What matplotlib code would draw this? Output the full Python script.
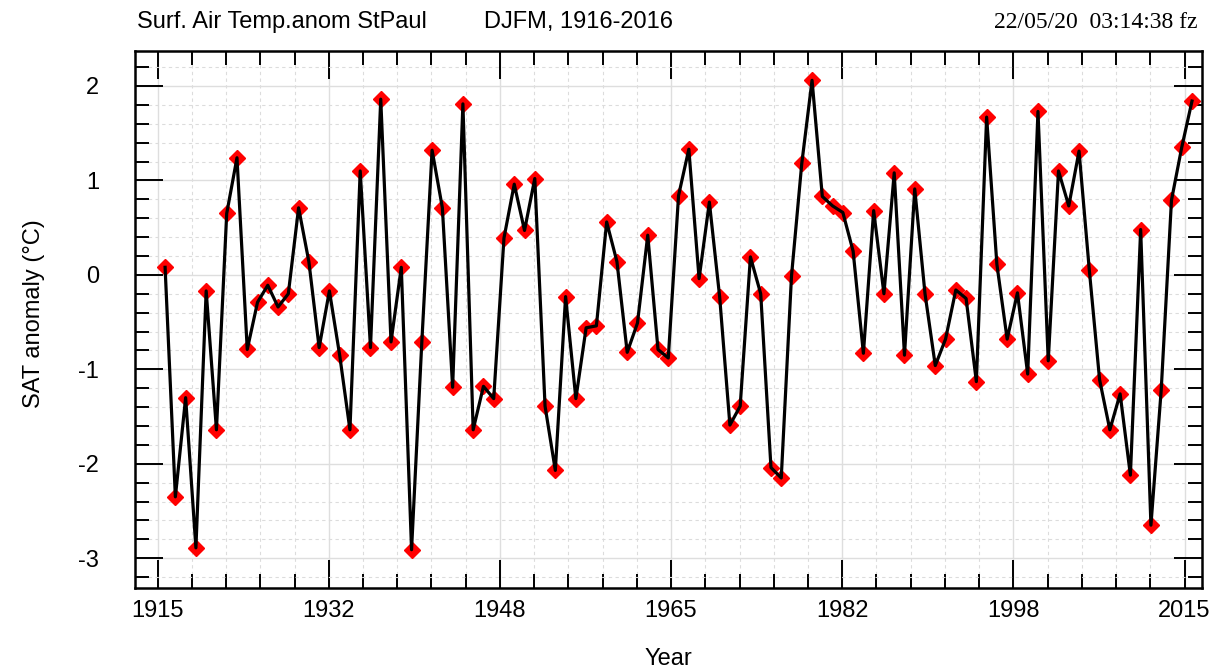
import matplotlib
matplotlib.use("Agg")
import matplotlib.pyplot as plt
import numpy as np
from matplotlib.ticker import AutoMinorLocator, MultipleLocator

plt.rcParams['font.family'] = ['Liberation Sans', 'DejaVu Sans']
plt.rcParams['axes.unicode_minus'] = False

#------------- data (DJFM SAT anomaly, St Paul) ---------------#
years = np.arange(1916, 2017)
sat = [0.08, -2.35, -1.30, -2.89, -0.17, -1.64, 0.65, 1.24, -0.79, -0.29,
       -0.11, -0.34, -0.20, 0.71, 0.14, -0.77, -0.17, -0.85, -1.64, 1.10,
       -0.77, 1.86, -0.71, 0.08, -2.91, -0.71, 1.32, 0.71, -1.19, 1.81,
       -1.64, -1.18, -1.31, 0.39, 0.96, 0.47, 1.02, -1.39, -2.07, -0.23,
       -1.31, -0.56, -0.54, 0.56, 0.14, -0.82, -0.51, 0.42, -0.79, -0.88,
       0.84, 1.33, -0.04, 0.77, -0.23, -1.59, -1.39, 0.19, -0.20, -2.04,
       -2.15, -0.01, 1.18, 2.06, 0.83, 0.73, 0.66, 0.25, -0.83, 0.68,
       -0.20, 1.08, -0.85, 0.91, -0.20, -0.96, -0.68, -0.16, -0.25, -1.13,
       1.67, 0.11, -0.68, -0.19, -1.05, 1.73, -0.91, 1.10, 0.73, 1.31,
       0.05, -1.11, -1.64, -1.26, -2.12, 0.48, -2.65, -1.22, 0.79, 1.35,
       1.84]
xtick_labels = ['1915', '1932', '1948', '1965', '1982', '1998', '2015']

#------------- figure ---------------#
fig = plt.figure(figsize=(12.24, 6.71), dpi=100)
ax = fig.add_axes([0.1103, 0.1244, 0.8717, 0.7996])

xpos = years - 0.27   # winter points sit a bit before the year mark
ax.plot(xpos, sat, linestyle='none', marker='D', markersize=8,
        color='#ff0000', markeredgecolor='#ff0000', zorder=3)
ax.plot(xpos, sat, color='black', linewidth=2.3, zorder=4)

ax.set_xlim(1912.8, 2016.7)
ax.set_ylim(-3.31, 2.37)

ax.set_xticks(1915 + np.arange(7) * 100 / 6)
ax.set_xticklabels(xtick_labels)
ax.xaxis.set_minor_locator(AutoMinorLocator(5))
ax.yaxis.set_major_locator(MultipleLocator(1))
ax.yaxis.set_minor_locator(MultipleLocator(0.2))

#grids
ax.grid(which='major', color='#dedede', linewidth=1.0, linestyle='-')
ax.grid(which='minor', color='#dcdcdc', linewidth=0.8, linestyle=(0, (3, 3)))
ax.set_axisbelow(True)

ax.tick_params(which='both', direction='in', top=True, right=True,
               labelsize=17, width=1.4, color='black')
ax.tick_params(which='major', length=20)
ax.tick_params(which='minor', length=10)
ax.tick_params(axis='y', which='major', pad=26)
ax.tick_params(axis='x', which='major', pad=9)

for sp in ax.spines.values():
    sp.set_linewidth(1.8)

ax.set_xlabel('Year', fontsize=17, labelpad=19)
ax.set_ylabel('SAT anomaly (°C)', fontsize=17, labelpad=29)
ax.yaxis.set_label_coords(-0.0845, 0.51)

#header texts
fig.text(137 / 1224, 1 - 22 / 671, 'Surf. Air Temp.anom StPaul', fontsize=17,
         ha='left', va='center')
fig.text(484 / 1224, 1 - 22 / 671, 'DJFM, 1916-2016', fontsize=17,
         ha='left', va='center')
fig.text(1197 / 1224, 1 - 22 / 671, '22/05/20  03:14:38 fz', fontsize=17,
         ha='right', va='center', family=['Liberation Serif', 'DejaVu Serif'])

fig.savefig('out.png', dpi=100)
